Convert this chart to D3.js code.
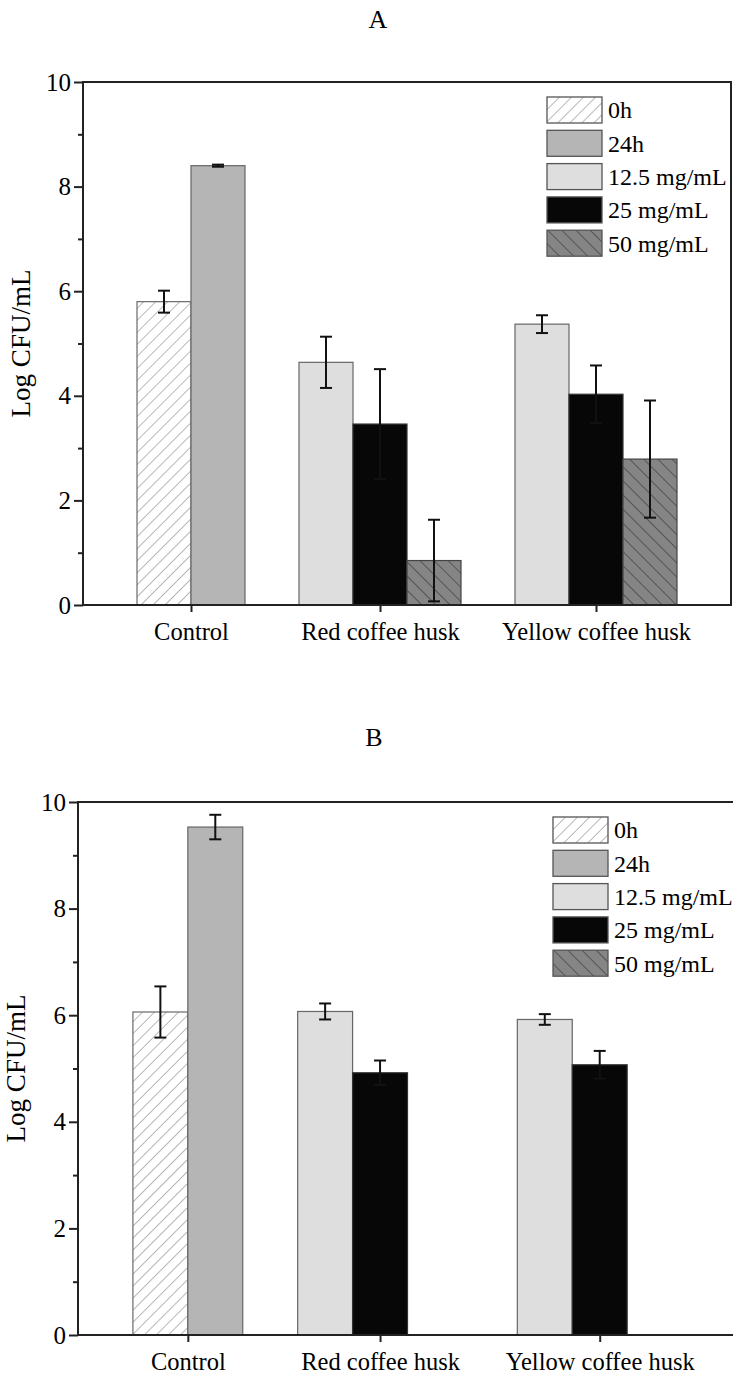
<!DOCTYPE html>
<html><head><meta charset="utf-8">
<script src="https://cdn.jsdelivr.net/npm/d3@7"></script>
<style>body{margin:0;background:#fff}svg{display:block}</style>
</head><body>
<script>
// ---- data ----
const categories = ["Control", "Red coffee husk", "Yellow coffee husk"];
const seriesNames = ["0h", "24h", "12.5 mg/mL", "25 mg/mL", "50 mg/mL"];
// which series occupy a slot in each category group
const groupSeries = [["0h", "24h"], ["12.5 mg/mL", "25 mg/mL", "50 mg/mL"], ["12.5 mg/mL", "25 mg/mL", "50 mg/mL"]];
const yTicks = [0, 2, 4, 6, 8, 10];

// Panel A values (per category) and SD
const A_0h = [5.80, null, null],   A_0h_err = [0.21, null, null];
const A_24h = [8.40, null, null],  A_24h_err = [0.02, null, null];
const A_125 = [null, 4.64, 5.37],  A_125_err = [null, 0.49, 0.17];
const A_25 = [null, 3.46, 4.03],   A_25_err = [null, 1.05, 0.55];
const A_50 = [null, 0.85, 2.79],   A_50_err = [null, 0.78, 1.12];
// Panel B
const B_0h = [6.06, null, null],   B_0h_err = [0.48, null, null];
const B_24h = [9.53, null, null],  B_24h_err = [0.23, null, null];
const B_125 = [null, 6.07, 5.92],  B_125_err = [null, 0.15, 0.10];
const B_25 = [null, 4.92, 5.07],   B_25_err = [null, 0.23, 0.26];
const B_50 = [null, null, null],   B_50_err = [null, null, null];

const panelA = {title: "A", vals: [A_0h, A_24h, A_125, A_25, A_50], errs: [A_0h_err, A_24h_err, A_125_err, A_25_err, A_50_err]};
const panelB = {title: "B", vals: [B_0h, B_24h, B_125, B_25, B_50], errs: [B_0h_err, B_24h_err, B_125_err, B_25_err, B_50_err]};

// ---- drawing ----
const W = 733, H = 1375;
const FONT = "'Liberation Serif','Times New Roman',serif";
const svg = d3.select("body").append("svg").attr("width", W).attr("height", H);

const defs = svg.append("defs");
// 0h: white with grey "/" hatch
const p1 = defs.append("pattern").attr("id", "hatch0h").attr("patternUnits", "userSpaceOnUse")
  .attr("width", 8.5).attr("height", 8.5).attr("patternTransform", "rotate(45)");
p1.append("rect").attr("width", 8.5).attr("height", 8.5).attr("fill", "#fff");
p1.append("line").attr("x1", 0).attr("y1", 0).attr("x2", 0).attr("y2", 8.5).attr("stroke", "#808080").attr("stroke-width", 1.1);
// 50: grey with dark "\" hatch
const p2 = defs.append("pattern").attr("id", "hatch50").attr("patternUnits", "userSpaceOnUse")
  .attr("width", 10).attr("height", 10).attr("patternTransform", "rotate(-45)");
p2.append("rect").attr("width", 10).attr("height", 10).attr("fill", "#858585");
p2.append("line").attr("x1", 0).attr("y1", 0).attr("x2", 0).attr("y2", 10).attr("stroke", "#333").attr("stroke-width", 1.2);

const fills = {"0h": "url(#hatch0h)", "24h": "#b5b5b5", "12.5 mg/mL": "#dedede", "25 mg/mL": "#070707", "50 mg/mL": "url(#hatch50)"};
const strokes = {"0h": "#6a6a6a", "24h": "#666", "12.5 mg/mL": "#666", "25 mg/mL": "#333", "50 mg/mL": "#444"};

function drawPanel(panel, box, titlePos) {
  const g = svg.append("g");
  // slot layout: a gap slot before each group and after the last one
  const slots = [];
  let s = 0;
  groupSeries.forEach((ser, ci) => { s += 1; ser.forEach(name => { slots.push({ci, name, slot: s}); s += 1; }); });
  const totalSlots = s + 1;
  const x = d3.scaleLinear().domain([0, totalSlots]).range([box.left, box.right]);
  const y = d3.scaleLinear().domain([0, 10]).range([box.bottom, box.top]);
  const catCenter = groupSeries.map((ser, ci) => {
    const sl = slots.filter(d => d.ci === ci);
    return x((sl[0].slot + sl[sl.length - 1].slot + 1) / 2);
  });

  g.append("text").attr("x", titlePos[0]).attr("y", titlePos[1]).attr("text-anchor", "middle")
    .attr("font-family", FONT).attr("font-size", 26).attr("fill", "#000").text(panel.title);

  // bars
  const bars = slots.map(d => {
    const si = seriesNames.indexOf(d.name);
    return {...d, v: panel.vals[si][d.ci], e: panel.errs[si][d.ci]};
  }).filter(d => d.v != null);
  g.selectAll("rect.bar").data(bars).join("rect").attr("class", "bar")
    .attr("x", d => x(d.slot)).attr("width", d => x(d.slot + 1) - x(d.slot))
    .attr("y", d => y(d.v)).attr("height", d => y(0) - y(d.v))
    .attr("fill", d => fills[d.name]).attr("stroke", d => strokes[d.name]).attr("stroke-width", 1.2);

  // error bars
  const eb = g.selectAll("g.err").data(bars.filter(d => d.e != null)).join("g").attr("class", "err")
    .attr("stroke", "#111").attr("stroke-width", 2);
  const cx = d => x(d.slot + 0.5);
  eb.append("line").attr("x1", cx).attr("x2", cx).attr("y1", d => y(d.v + d.e)).attr("y2", d => y(d.v - d.e));
  eb.append("line").attr("x1", d => cx(d) - 6).attr("x2", d => cx(d) + 6).attr("y1", d => y(d.v + d.e)).attr("y2", d => y(d.v + d.e));
  eb.append("line").attr("x1", d => cx(d) - 6).attr("x2", d => cx(d) + 6).attr("y1", d => y(d.v - d.e)).attr("y2", d => y(d.v - d.e));

  // frame
  g.append("rect").attr("x", box.left).attr("y", box.top).attr("width", box.right - box.left).attr("height", box.bottom - box.top)
    .attr("fill", "none").attr("stroke", "#222").attr("stroke-width", 2);

  // y axis
  const ya = g.append("g").attr("transform", `translate(${box.left},0)`)
    .call(d3.axisLeft(y).tickValues(yTicks).tickSize(9).tickPadding(3).tickFormat(d3.format("d")));
  ya.select(".domain").remove();
  ya.selectAll("line").attr("stroke", "#222").attr("stroke-width", 2);
  ya.selectAll("text").attr("font-family", FONT).attr("font-size", 25).attr("fill", "#000");
  const ym = g.append("g").attr("transform", `translate(${box.left},0)`)
    .call(d3.axisLeft(y).tickValues([1, 3, 5, 7, 9]).tickSize(5).tickFormat(""));
  ym.select(".domain").remove();
  ym.selectAll("line").attr("stroke", "#222").attr("stroke-width", 2);

  // x axis (category ticks)
  const xs = d3.scaleOrdinal().domain(categories).range(catCenter);
  const xa = g.append("g").attr("transform", `translate(0,${box.bottom})`)
    .call(d3.axisBottom(xs).tickSize(7).tickPadding(11));
  xa.select(".domain").remove();
  xa.selectAll("line").attr("stroke", "#222").attr("stroke-width", 2);
  xa.selectAll("text").attr("font-family", FONT).attr("font-size", 24.5).attr("fill", "#000");

  // y title
  g.append("text").attr("transform", `translate(${box.left - 53},${(box.top + box.bottom) / 2}) rotate(-90)`)
    .attr("text-anchor", "middle").attr("font-family", FONT).attr("font-size", 27).attr("fill", "#000").text("Log CFU/mL");

  // legend
  const lg = g.append("g").attr("transform", `translate(${box.right - 184},${box.top + 15})`);
  const li = lg.selectAll("g").data(seriesNames).join("g").attr("transform", (d, i) => `translate(0,${i * 33.3})`);
  li.append("rect").attr("width", 55).attr("height", 26).attr("fill", d => fills[d]).attr("stroke", "#555").attr("stroke-width", 1.3);
  li.append("text").attr("x", 61).attr("y", 13).attr("dy", "0.35em").attr("font-family", FONT).attr("font-size", 24)
    .attr("fill", "#000").text(d => d);
}

drawPanel(panelA, {left: 83, right: 731, top: 82, bottom: 605}, [378, 28]);
drawPanel(panelB, {left: 78, right: 737, top: 802, bottom: 1335}, [374, 746]);
</script>
</body></html>
